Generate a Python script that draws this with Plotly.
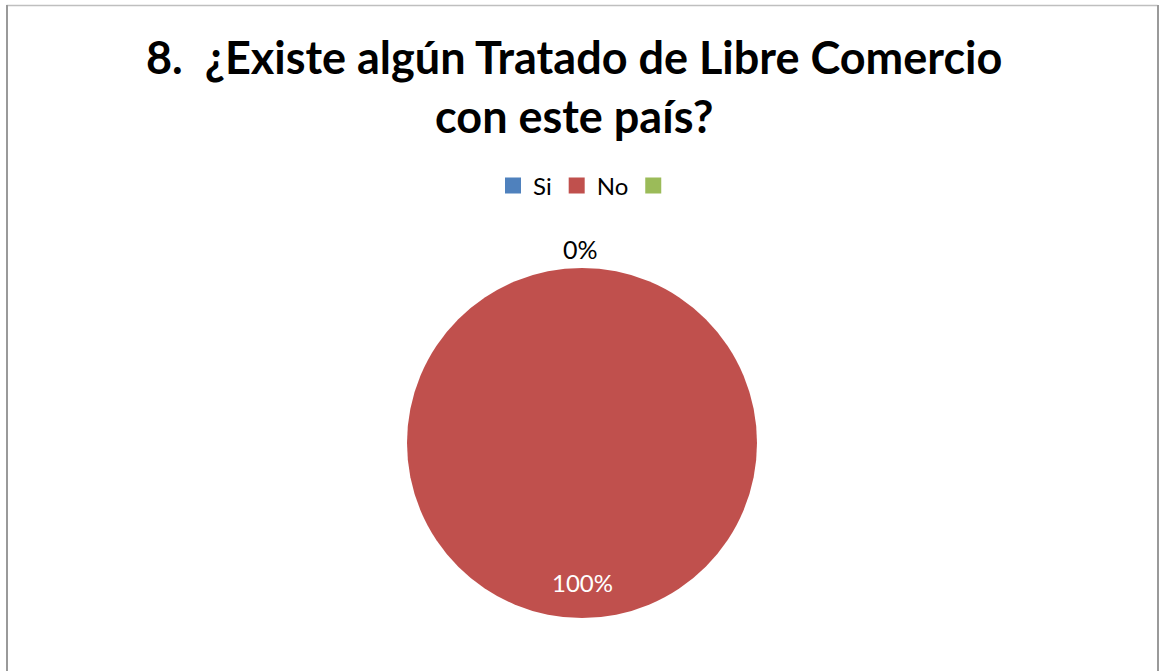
import plotly.graph_objects as go

labels = ["Si", "No", " "]
values = [0, 100, 0]
colors = ["#4F81BD", "#C0504D", "#9BBB59"]
title_lines = ["8.  ¿Existe algún Tratado de Libre Comercio", "con este país?"]

W, H = 1161, 671
total = sum(values)
pcts = [f"{round(v / total * 100)}%" for v in values]

cx, cy, r = 582, 443, 175

fig = go.Figure()
fig.add_trace(go.Pie(
    labels=labels, values=values, marker=dict(colors=colors),
    sort=False, direction="clockwise", rotation=0,
    textinfo="none", hoverinfo="label+percent",
    domain=dict(x=[(cx - r) / W, (cx + r) / W], y=[1 - (cy + r) / H, 1 - (cy - r) / H]),
    showlegend=False,
))
for lab, col in zip(labels, colors):
    fig.add_trace(go.Scatter(
        x=[None], y=[None], mode="markers", name=lab,
        marker=dict(symbol="square", size=18, color=col), showlegend=True,
    ))

annotations = [
    dict(text="<b>" + title_lines[0] + "</b>", x=574 / W, y=1 - 57 / H, xref="paper", yref="paper",
         showarrow=False, font=dict(family="Lato", size=45, color="#000000"), xanchor="center", yanchor="middle"),
    dict(text="<b>" + title_lines[1] + "</b>", x=574 / W, y=1 - 116 / H, xref="paper", yref="paper",
         showarrow=False, font=dict(family="Lato", size=45, color="#000000"), xanchor="center", yanchor="middle"),
    dict(text=pcts[0], x=580 / W, y=1 - 249 / H, xref="paper", yref="paper", showarrow=False,
         font=dict(family="Lato", size=25, color="#000000"), xanchor="center", yanchor="middle"),
    dict(text=pcts[1], x=582 / W, y=1 - 582 / H, xref="paper", yref="paper", showarrow=False,
         font=dict(family="Lato", size=24, color="#FFFFFF"), xanchor="center", yanchor="middle"),
]

shapes = [
    dict(type="line", xref="paper", yref="paper", x0=6.5 / W, x1=1157.5 / W, y0=1 - 5.5 / H, y1=1 - 5.5 / H,
         line=dict(color="#BFBFBF", width=1.5)),
    dict(type="line", xref="paper", yref="paper", x0=7 / W, x1=7 / W, y0=0, y1=1 - 5 / H,
         line=dict(color="#9A9A9A", width=2)),
    dict(type="line", xref="paper", yref="paper", x0=1158 / W, x1=1158 / W, y0=0, y1=1 - 5 / H,
         line=dict(color="#9A9A9A", width=2)),
]

fig.update_layout(
    width=W, height=H,
    margin=dict(l=0, r=0, t=0, b=0),
    paper_bgcolor="#FFFFFF", plot_bgcolor="#FFFFFF",
    xaxis=dict(visible=False), yaxis=dict(visible=False),
    annotations=annotations, shapes=shapes,
    legend=dict(orientation="h", x=589 / W, y=1 - 186 / H, xanchor="center", yanchor="middle",
                font=dict(family="Lato", size=24, color="#000000"), itemwidth=30, tracegroupgap=0,
                itemclick=False, itemdoubleclick=False),
)

fig.write_html("out.html")
